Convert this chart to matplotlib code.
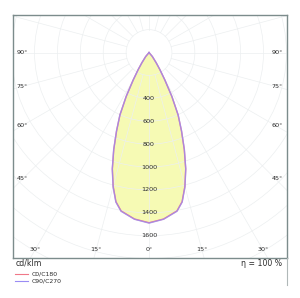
import numpy as np
import matplotlib.pyplot as plt
from matplotlib.lines import Line2D

# light distribution curve (cd/klm) vs gamma angle, symmetric
gamma = [0, 5, 10, 12.5, 15, 17.5, 20, 22.5, 25, 27.5, 30, 32.5, 35, 40, 45]
c0_c180 = [1487, 1460, 1405, 1335, 1210, 1065, 900, 740, 600, 430, 275, 175, 108, 45, 0]
c90_c270 = [1490, 1462, 1408, 1338, 1213, 1068, 903, 743, 602, 432, 276, 176, 109, 45, 0]

ring_labels = [400, 600, 800, 1000, 1200, 1400, 1600]
side_angles = [90, 75, 60, 45]
bottom_angles = [-30, -15, 0, 15, 30]

grid_col = '#eceff0'
fill_col = '#f6fab4'
col_c0 = '#f07888'
col_c90 = '#9a8cf4'


def to_xy(g, v):
    #gammaを両側に展開してx,yへ
    g = np.radians(np.concatenate([-np.array(g)[::-1], np.array(g)[1:]]))
    v = np.concatenate([np.array(v)[::-1], np.array(v)[1:]])
    return v*np.sin(g), -v*np.cos(g)


fig = plt.figure(figsize=(3.0, 2.98), dpi=100)
ax = fig.add_axes([13/300, 40/298, 274/300, 243/298])
ax.set_xlim(-1188, 1205)
ax.set_ylim(-1795, 328)

#グリッド
for r in range(200, 2600, 200):
    ax.add_patch(plt.Circle((0, 0), r, fill=False, ec=grid_col, lw=0.5, zorder=2))
for a in range(0, 360, 15):
    t = np.radians(a)
    ax.plot([200*np.sin(t), 2600*np.sin(t)], [-200*np.cos(t), -2600*np.cos(t)],
            color=grid_col, lw=0.5, zorder=2)

x0, y0 = to_xy(gamma, c0_c180)
x9, y9 = to_xy(gamma, c90_c270)
ax.fill(x0, y0, color=fill_col, zorder=1, lw=0)
ax.plot(x0, y0, color=col_c0, lw=1.0, zorder=3)
ax.plot(x9, y9, color=col_c90, lw=1.0, alpha=0.8, zorder=4)

#ラベル
for v in ring_labels:
    ax.text(0, -v, str(v), ha='center', va='center', fontsize=4.6, color='#2a2a2a', zorder=5)
for a in side_angles:
    t = np.radians(a)
    y = -1100/np.tan(t) if a != 90 else 0
    ax.text(-1105, y, f'{a}°', ha='center', va='center', fontsize=4.6, color='#2a2a2a')
    ax.text(1118, y, f'{a}°', ha='center', va='center', fontsize=4.6, color='#2a2a2a')
for a in bottom_angles:
    x = 1725*np.tan(np.radians(a))
    ax.text(x, -1725, f'{abs(a)}°', ha='center', va='center', fontsize=4.6, color='#2a2a2a')

ax.set_xticks([])
ax.set_yticks([])
for s in ax.spines.values():
    s.set_color('#7c8c8c')
    s.set_linewidth(1.0)

fig.text(16/300, 1-263/298, 'cd/klm', ha='left', va='center', fontsize=5.6, color='#2a2a2a')
fig.text(282/300, 1-263/298, 'η = 100 %', ha='right', va='center', fontsize=5.6, color='#2a2a2a')

#凡例
for yy, c, lab in [(274, col_c0, 'C0/C180'), (281, col_c90, 'C90/C270')]:
    fig.add_artist(Line2D([15/300, 28/300], [1-yy/298]*2, color=c, lw=0.8))
    fig.text(32/300, 1-yy/298, lab, ha='left', va='center', fontsize=4.4, color='#2a2a2a')
fig.add_artist(Line2D([287/300]*2, [1-258/298, 1-285/298], color='#b0b8b8', lw=0.8))

fig.savefig('out.png', dpi=100)
